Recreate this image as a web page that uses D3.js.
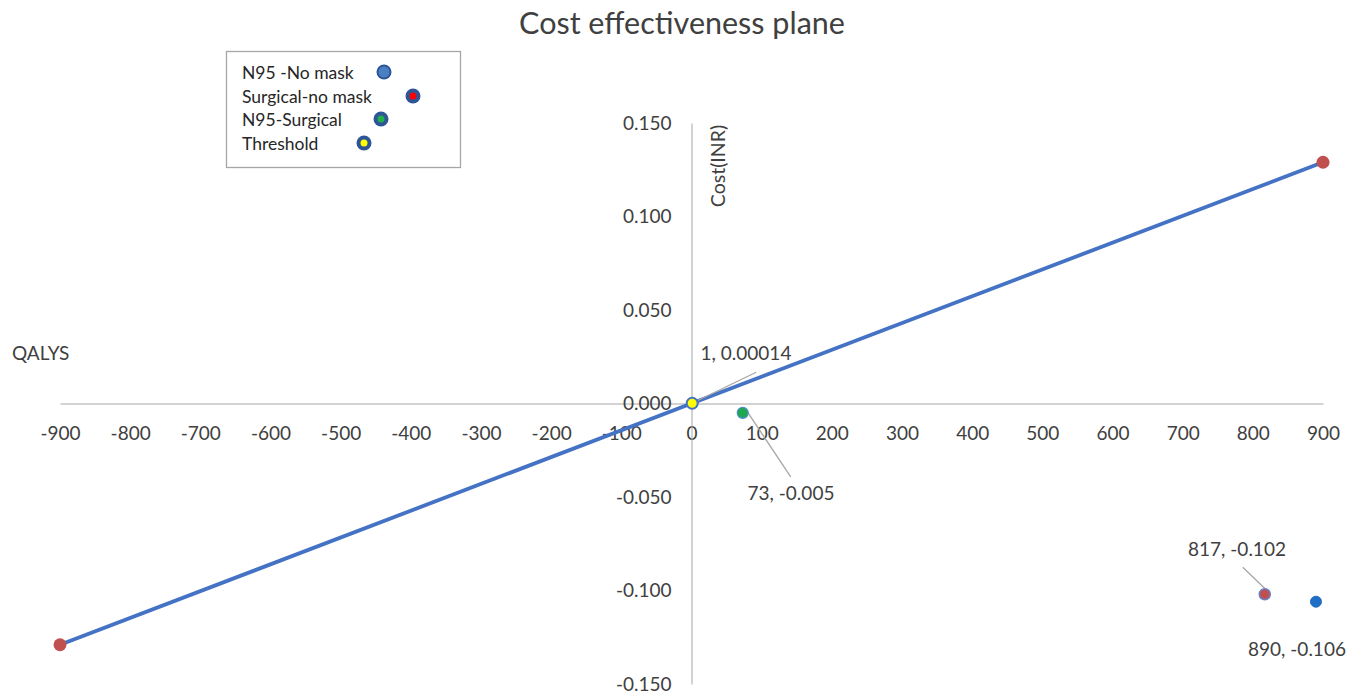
<!DOCTYPE html>
<html><head><meta charset="utf-8">
<script src="https://cdn.jsdelivr.net/npm/d3@7"></script>
<style>body{margin:0;background:#fff;} svg{display:block;}</style>
</head><body>
<script>
const xTicks = [-900,-800,-700,-600,-500,-400,-300,-200,-100,0,100,200,300,400,500,600,700,800,900];
const yTicks = [0.15,0.10,0.05,0.0,-0.05,-0.10,-0.15];
const thresholdLine = [[-900,-0.129],[900,0.129]];
const points = [
  {name:"Threshold", x:1, y:0.00014, label:"1, 0.00014"},
  {name:"N95-Surgical", x:73, y:-0.005, label:"73, -0.005"},
  {name:"Surgical-no mask", x:817, y:-0.102, label:"817, -0.102"},
  {name:"N95 -No mask", x:890, y:-0.106, label:"890, -0.106"}
];
const legendNames = ["N95 -No mask","Surgical-no mask","N95-Surgical","Threshold"];
const legendInner = ["#4a7fc1","#ff0000","#22b04a","#ffff00"];

const W=1372,H=694;
const svg=d3.select("body").append("svg").attr("width",W).attr("height",H);
const font="Lato, 'Open Sans', sans-serif";
const x=d3.scaleLinear().domain([-900,900]).range([60,1323]);
const y=d3.scaleLinear().domain([-0.15,0.15]).range([684,123]);

svg.append("text").attr("x",682).attr("y",34).attr("text-anchor","middle")
  .attr("font-family",font).attr("font-size",30.5).attr("fill","#404040").text("Cost effectiveness plane");

// x axis
const xa=svg.append("g").attr("transform",`translate(0,${y(0)})`)
  .call(d3.axisBottom(x).tickValues(xTicks).tickSize(0).tickPadding(23).tickFormat(d3.format("d")));
xa.select(".domain").attr("stroke","#a6a6a6");
xa.selectAll("text").attr("font-family",font).attr("font-size",19).attr("fill","#404040");
// y axis
const ya=svg.append("g").attr("transform",`translate(${x(0)},0)`)
  .call(d3.axisLeft(y).tickValues(yTicks).tickSize(0).tickPadding(20).tickFormat(d3.format(".3f")));
ya.select(".domain").attr("stroke","#a6a6a6");
ya.selectAll("text").attr("font-family",font).attr("font-size",19).attr("fill","#404040");
ya.selectAll("text").text(d=>d3.format(".3f")(d).replace("−","-"));
xa.selectAll("text").text(d=>String(d));

svg.append("text").attr("x",12).attr("y",360).attr("font-family",font).attr("font-size",19).attr("fill","#404040").text("QALYS");
svg.append("text").attr("transform",`translate(725,166) rotate(-90)`).attr("text-anchor","middle")
  .attr("font-family",font).attr("font-size",19.5).attr("fill","#404040").text("Cost(INR)");

// threshold line
svg.append("path").datum(thresholdLine)
  .attr("d",d3.line().x(d=>x(d[0])).y(d=>y(d[1])))
  .attr("stroke","#4472c4").attr("stroke-width",3.8).attr("fill","none");
svg.selectAll("circle.end").data(thresholdLine).enter().append("circle")
  .attr("cx",d=>x(d[0])).attr("cy",d=>y(d[1])).attr("r",6.5).attr("fill","#c0504d");

// leader lines
const leaders=[
  {p:0, dx:[64,-31]},
  {p:1, dx:[48,64]},
  {p:2, dx:[-22,-27]}
];
leaders.forEach(l=>{
  const d=points[l.p];
  svg.append("line").attr("x1",x(d.x)+4).attr("y1",y(d.y)-2)
    .attr("x2",x(d.x)+l.dx[0]).attr("y2",y(d.y)+l.dx[1]).attr("stroke","#a6a6a6").attr("stroke-width",1.3);
});
// points
const styles={
  "Threshold":{fill:"#ffff00",stroke:"#4472c4",r:5.5,sw:2},
  "N95-Surgical":{fill:"#1fa84f",stroke:"#4a90c8",r:5.5,sw:1.2},
  "Surgical-no mask":{fill:"#c0504d",stroke:"#6a7fc8",r:5.5,sw:1.5},
  "N95 -No mask":{fill:"#1f6fc5",stroke:"#1f6fc5",r:5.5,sw:1}
};
svg.selectAll("circle.pt").data(points).enter().append("circle")
  .attr("cx",d=>x(d.x)).attr("cy",d=>y(d.y))
  .attr("r",d=>styles[d.name].r).attr("fill",d=>styles[d.name].fill)
  .attr("stroke",d=>styles[d.name].stroke).attr("stroke-width",d=>styles[d.name].sw);
// labels
const labelPos=[[746,360],[791,500],[1237,556],[1297,656]];
svg.selectAll("text.lbl").data(points).enter().append("text")
  .attr("x",(d,i)=>labelPos[i][0]).attr("y",(d,i)=>labelPos[i][1]).attr("text-anchor","middle")
  .attr("font-family",font).attr("font-size",19).attr("fill","#404040").text(d=>d.label);

// legend
const lg=svg.append("g");
lg.append("rect").attr("x",226.5).attr("y",51.5).attr("width",234).attr("height",116)
  .attr("fill","#fff").attr("stroke","#a6a6a6").attr("stroke-width",1.3);
const lgY=[73,97,120,144], lgMX=[384,413,381,364];
legendNames.forEach((n,i)=>{
  lg.append("text").attr("x",242).attr("y",lgY[i]+6).attr("font-family",font).attr("font-size",17.5)
    .attr("fill","#262626").text(n);
  lg.append("circle").attr("cx",lgMX[i]).attr("cy",lgY[i]-1).attr("r",7.5).attr("fill","#2e5597");
  lg.append("circle").attr("cx",lgMX[i]).attr("cy",lgY[i]-1).attr("r",i===0?5.5:3.5).attr("fill",legendInner[i]);
});
</script>
</body></html>
